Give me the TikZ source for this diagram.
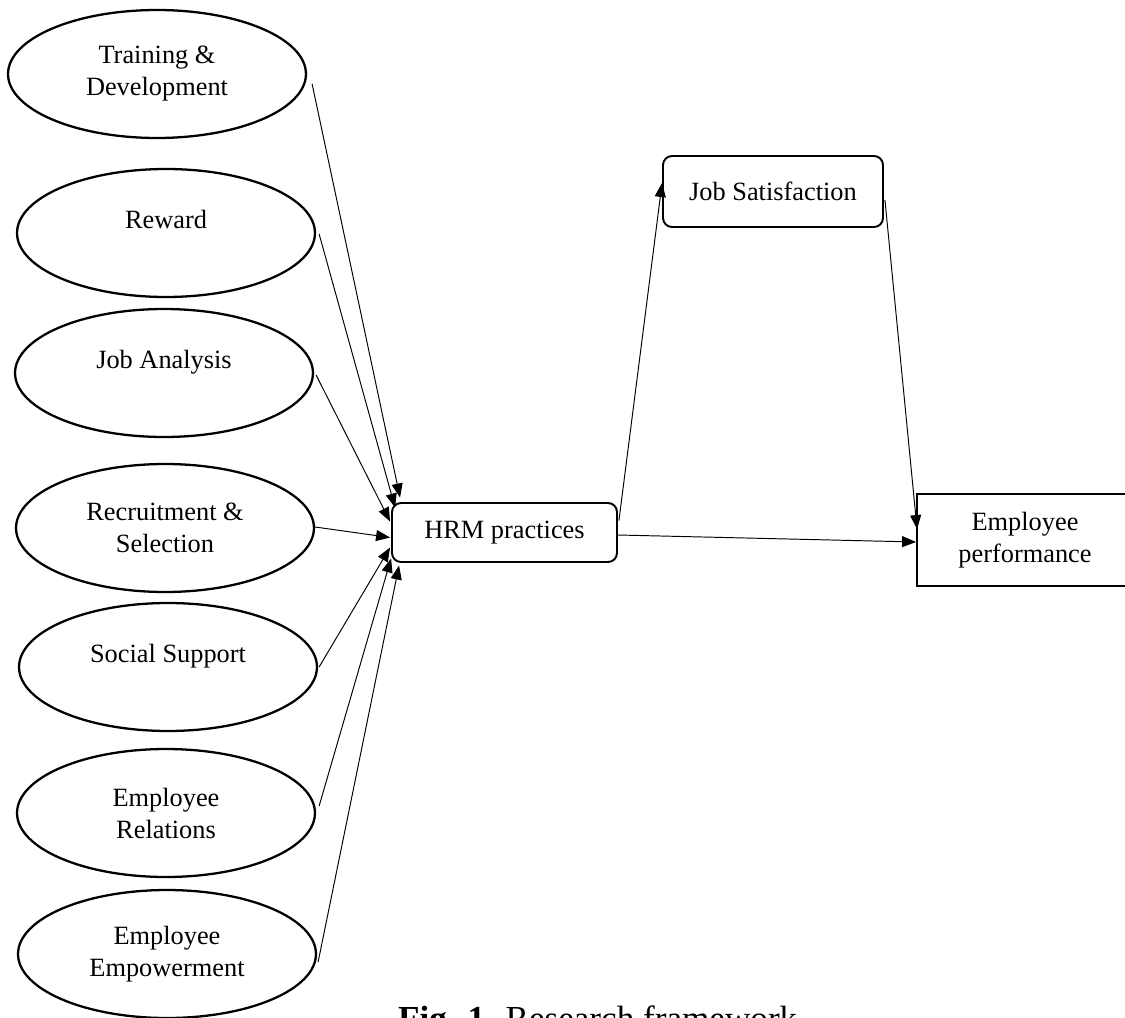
\documentclass[tikz,border=0pt]{standalone}
\usepackage{fontspec}
\setmainfont{Liberation Serif}
\usetikzlibrary{arrows.meta,shapes.geometric}

\tikzset{
  factor/.style={draw, ellipse, line width=1.3pt, minimum width=5.96cm, minimum height=2.56cm,
    inner sep=0pt, align=center, font=\fontsize{15}{18.2}\selectfont},
  oneline/.style={text height=0.4cm, text depth=0.57cm},
  roundbox/.style={draw, rounded corners=0.18cm, line width=1.1pt, inner sep=0pt,
    align=center, font=\fontsize{15}{18.2}\selectfont},
  plainbox/.style={draw, line width=1.1pt, inner sep=0pt,
    align=center, font=\fontsize{15}{18.2}\selectfont},
  link/.style={->, line width=0.55pt},
}

\begin{document}
\begin{tikzpicture}[x=0.02cm, y=-0.02cm, >={Triangle[length=0.28cm,width=0.22cm]}]

\useasboundingbox (0,0) rectangle (1125,1017);

% HRM practices on the left
\node[factor] (td) at (157,74) {Training \&\\Development};
\node[factor, oneline] (rwd) at (166,233) {Reward};
\node[factor, oneline] (ja) at (164,373) {Job Analysis};
\node[factor] (rs) at (165,528) {Recruitment \&\\Selection};
\node[factor, oneline] (ss) at (168,667) {Social Support};
\node[factor] (er) at (166,813) {Employee\\Relations};
\node[factor] (ee) at (167,954) {Employee\\Empowerment};

\node[roundbox, minimum width=4.5cm, minimum height=1.18cm] (hrm) at (504.5,532.5) {HRM practices};
\node[roundbox, minimum width=4.4cm, minimum height=1.42cm] (js) at (773,191.5) {Job Satisfaction};
\node[plainbox, minimum width=4.32cm, minimum height=1.84cm] (ep) at (1025,540) {Employee\\performance};

    \draw[link] ([shift={(5,10)}]td.east) -- ([shift={(9,-35)}]hrm.west);
    \draw[link] ([shift={(3,1)}]rwd.east) -- ([shift={(4,-25)}]hrm.west);
    \draw[link] ([shift={(2,2)}]ja.east) -- ([shift={(-1,-11)}]hrm.west);
    \draw[link] ([shift={(0,-1)}]rs.east) -- ([shift={(-1,5)}]hrm.west);
    \draw[link] ([shift={(1,0)}]ss.east) -- ([shift={(-1,15)}]hrm.west);
    \draw[link] ([shift={(3,-7)}]er.east) -- ([shift={(0,26)}]hrm.west);
    \draw[link] ([shift={(1,8)}]ee.east) -- ([shift={(8,33)}]hrm.west);%empowerment

    \draw[link] ([shift={(1,-12)}]hrm.east) -- ([shift={(0,-8.5)}]js.west);
    \draw[link] ([shift={(1,8.5)}]js.east) -- ([shift={(1,36)}]ep.north west);
    \draw[link] ([shift={(0,2.5)}]hrm.east) -- ([shift={(0,2)}]ep.west);

\node[anchor=base west, font=\fontsize{20}{24}\selectfont] (cap) at (392,1030) {\textbf{Fig. 1.} Research framework};
\end{tikzpicture}
\end{document}
